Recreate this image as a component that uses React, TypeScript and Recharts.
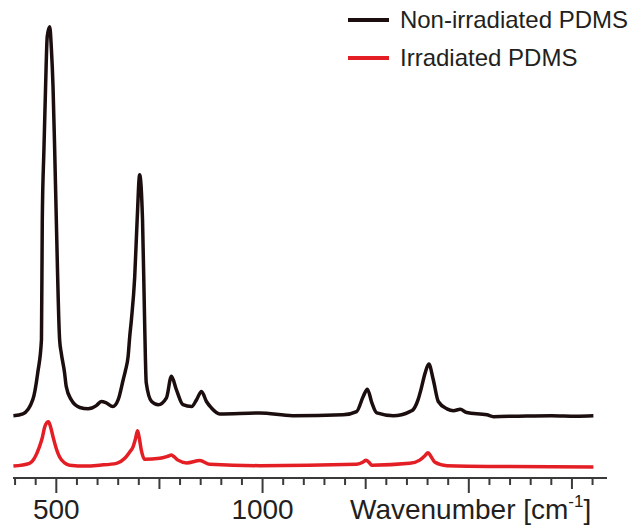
import { LineChart, Line, XAxis, YAxis, Legend, Label } from "recharts"

// wavenumber [cm-1] and intensity (a.u.)
const blackWn = [
  396, 419, 443, 455, 464, 466, 470, 474, 478, 484, 488, 492, 496, 500, 508, 512, 520, 524, 536, 557,
  577, 597, 609, 621, 637, 650, 662, 668, 674, 678, 682, 690, 696, 702, 709, 714, 718, 731, 747, 767,
  779, 791, 807, 828, 840, 852, 864, 876, 896, 993, 1073, 1195, 1228, 1244, 1254, 1265, 1277, 1317, 1357, 1365,
  1377, 1384, 1394, 1403, 1414, 1426, 1447, 1463, 1479, 1495, 1544, 1560, 1620, 1700, 1760, 1802,
]
const blackInt = [
  -0.2, 0.2, 3.3, 9.2, 16.4, 42.6, 58, 71.7, 82.6, 84.7, 80, 71.7, 58, 42.6, 16.4, 13.5, 9.2, 6.2, 3.3, 1.6,
  1.3, 2.0, 2.9, 2.6, 1.8, 3.3, 7.6, 9.8, 12.7, 17.1, 20.7, 30, 42.6, 52.4, 42.6, 20.7, 7.0, 2.9, 2.2, 3.7,
  8.4, 5.5, 2.2, 1.8, 3.3, 5.1, 2.9, 1.5, 0.2, 0.4, -0.2, 0, 0.7, 4.0, 5.6, 2.6, 0.4, -0.2, 0.7, 1.1,
  3.3, 5.5, 9.1, 11.1, 7.6, 2.9, 1.3, 0.9, 1.2, 0.5, 0, -0.4, -0.3, -0.2, -0.3, -0.2,
]

const redWn = [
  396, 435, 459, 466, 472, 477, 481, 486, 492, 500, 508, 520, 532, 573, 605, 646, 666, 678, 686, 692,
  697, 701, 706, 714, 751, 772, 779, 786, 795, 816, 848, 872, 993, 1228, 1244, 1251, 1258, 1265, 1357, 1381,
  1394, 1401, 1409, 1417, 1447, 1600, 1802,
]
const redInt = [
  0, 0.6, 4.2, 6.2, 8.6, 9.5, 9.7, 8.6, 6.4, 3.8, 2.0, 0.7, 0.2, 0, 0.2, 0.6, 1.7, 3.1, 4.2, 6.0,
  7.7, 6.2, 3.5, 1.5, 1.7, 2.2, 2.4, 2.0, 1.3, 0.7, 1.2, 0.4, 0.1, 0.4, 0.9, 1.3, 0.8, 0.2, 0.6, 1.3,
  2.3, 2.9, 2.0, 0.9, 0.1, -0.1, -0.2,
]

const seriesNames = ["Non-irradiated PDMS", "Irradiated PDMS"]

const BLACK_OFFSET = 13.8
const RED_OFFSET = 2.6

const xTicks = [
  400, 450, 500, 550, 600, 650, 700, 750, 800, 850, 900, 950, 1000, 1050, 1100, 1150, 1200, 1250, 1300,
  1350, 1400, 1450, 1500, 1550, 1600, 1650, 1700, 1750, 1800,
]
const tickLabels: Record<number, string> = { 500: "500", 1000: "1000" }

const black = blackWn.map((wn, i) => ({ wn, v: blackInt[i] + BLACK_OFFSET }))
const red = redWn.map((wn, i) => ({ wn, v: redInt[i] + RED_OFFSET }))

const FONT = "'Liberation Sans', Arial, sans-serif"
const TEXT = "#231f20"

function Tick(props: any) {
  const { x, y, payload } = props
  const v = payload.value as number
  const len = v % 500 === 0 ? 15 : v % 250 === 0 ? 11 : 7
  const label = tickLabels[v]
  return (
    <g>
      <line x1={x} x2={x} y1={y} y2={y + len} stroke="#3a3a3a" strokeWidth={2} />
      {label && (
        <text x={x} y={y + 41} textAnchor="middle" fontSize={28} fontFamily={FONT} fill={TEXT}>
          {label}
        </text>
      )}
    </g>
  )
}

function AxisTitle(props: any) {
  const { viewBox } = props
  const y = viewBox.y + 41
  return (
    <text x={350} y={y} fontSize={28} fontFamily={FONT} fill={TEXT}>
      Wavenumber [cm
      <tspan fontSize={17} dy={-12}>-1</tspan>
      <tspan dy={12}>]</tspan>
    </text>
  )
}

function LegendBox({ payload }: any) {
  const items = [...(payload || [])].sort(
    (a: any, b: any) => seriesNames.indexOf(a.value) - seriesNames.indexOf(b.value)
  )
  return (
    <div style={{ fontFamily: FONT, fontSize: 24, color: TEXT }}>
      {items.map((p: any) => (
        <div key={p.value} style={{ display: "flex", alignItems: "center", height: 38 }}>
          <span style={{ display: "inline-block", width: 41, height: 4, background: p.color, marginRight: 11 }} />
          <span style={{ whiteSpace: "nowrap" }}>{p.value}</span>
        </div>
      ))}
    </div>
  )
}

export default function App() {
  return (
    <div style={{ position: "absolute", left: 0, top: 0, background: "#fff" }}>
      <LineChart width={631} height={527} margin={{ top: 20, right: 24, bottom: 4, left: 13 }}>
        <XAxis
          type="number"
          dataKey="wn"
          domain={[395, 1835]}
          ticks={xTicks}
          interval={0}
          height={45}
          tickSize={0}
          tickMargin={0}
          tickLine={false}
          axisLine={{ stroke: "#3a3a3a", strokeWidth: 2 }}
          tick={<Tick />}
          allowDataOverflow
        >
          <Label content={<AxisTitle />} />
        </XAxis>
        <YAxis hide type="number" domain={[0, 100]} />
        <Legend
          layout="horizontal"
          verticalAlign="middle"
          align="center"
          wrapperStyle={{ top: 1, left: 348, width: 280 }}
          content={<LegendBox />}
        />
        <Line
          data={black}
          dataKey="v"
          name={seriesNames[0]}
          type="monotone"
          stroke="#1c0e0e"
          strokeWidth={3.5}
          dot={false}
          isAnimationActive={false}
        />
        <Line
          data={red}
          dataKey="v"
          name={seriesNames[1]}
          type="monotone"
          stroke="#e31e24"
          strokeWidth={3.5}
          dot={false}
          isAnimationActive={false}
        />
      </LineChart>
    </div>
  )
}
